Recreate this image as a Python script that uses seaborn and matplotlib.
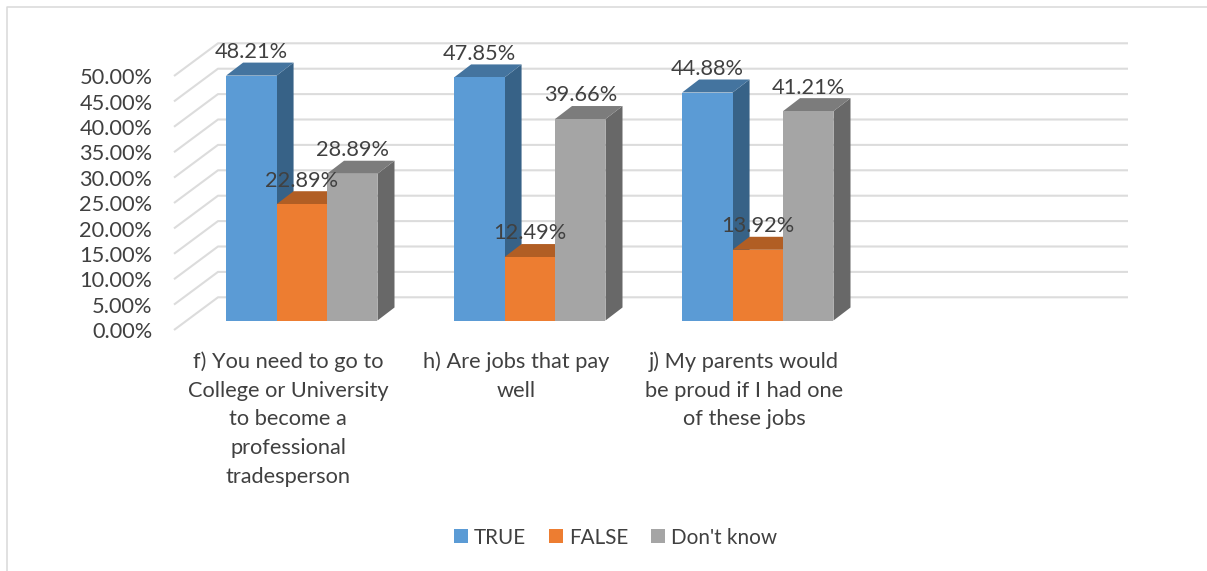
import matplotlib
matplotlib.use("Agg")
import matplotlib.pyplot as plt
import matplotlib.transforms as mtransforms
from matplotlib.lines import Line2D
from matplotlib.patches import Polygon, Patch
import pandas as pd
import seaborn as sns

# Survey responses, in percent
questions = [
    "f) You need to go to\nCollege or University\nto become a\nprofessional\ntradesperson",
    "h) Are jobs that pay\nwell",
    "j) My parents would\nbe proud if I had one\nof these jobs",
]
answers = ["TRUE", "FALSE", "Don't know"]
true_values = [48.21, 47.85, 44.88]
false_values = [22.89, 12.49, 13.92]
unknown_values = [28.89, 39.66, 41.21]
y_ticks = [0, 5, 10, 15, 20, 25, 30, 35, 40, 45, 50]

front_colors = ["#5B9BD5", "#ED7D31", "#A5A5A5"]
top_colors = ["#44749F", "#B15E24", "#7C7C7C"]
side_colors = ["#376287", "#8E4B1D", "#686868"]
grid_color = "#DCDCDC"
text_color = "#404040"

W, H = 1207, 571
sns.set_theme(style="white")
plt.rcParams["font.family"] = ["Lato", "DejaVu Sans"]
font_pt = 15.7
legend_pt = 14.9

df = pd.DataFrame({
    "question": [q for q in questions for _ in answers],
    "answer": answers * len(questions),
    "value": [v for triple in zip(true_values, false_values, unknown_values) for v in triple],
})

fig = plt.figure(figsize=(W / 100, H / 100), dpi=100, facecolor="white")

# Axes box in pixels; the scales below tie percent and category units to it
left, right, top, bottom = 174, 1128, 30, 330
ax = fig.add_axes([left / W, 1 - bottom / H, (right - left) / W, (bottom - top) / H])
px_per_pct = 5.08
px_per_group = 228.0
base_px = 320.5
center_px = 301.8
ax.set_xlim((left - center_px) / px_per_group, (right - center_px) / px_per_group)
ax.set_ylim((base_px - bottom) / px_per_pct, (base_px - top) / px_per_pct)
xlim, ylim = ax.get_xlim(), ax.get_ylim()

sns.barplot(data=df, x="question", y="value", hue="answer", order=questions,
            hue_order=answers, palette=front_colors, saturation=1, width=0.664,
            gap=0, dodge=True, legend=False, ax=ax)
ax.set_xlim(xlim)
ax.set_ylim(ylim)
ax.set_xlabel("")
ax.set_ylabel("")
sns.despine(ax=ax, left=True, bottom=True, top=True, right=True)
ax.grid(False)

# Floor and back wall lines of the 3D box
wall_px = 44 / (right - left)
front_drop = 9.5 / px_per_pct
back_rise = 23.2 / px_per_pct
for v in y_ticks:
    ax.plot([0, wall_px, 1], [v - front_drop, v + back_rise, v + back_rise],
            transform=ax.get_yaxis_transform(), color=grid_color, lw=1.5,
            zorder=1, clip_on=False, solid_capstyle="butt")

# Extrude each bar with a top and a side face
depth_x = 17 / px_per_group
depth_y = 13 / px_per_pct
for i, container in enumerate(ax.containers):
    z = 3 + i
    for bar in container:
        x0, x1 = bar.get_x(), bar.get_x() + bar.get_width()
        h = bar.get_height()
        bar.set_zorder(z + 0.2)
        bar.set_edgecolor("none")
        ax.add_patch(Polygon([(x1, 0), (x1 + depth_x, depth_y), (x1 + depth_x, h + depth_y), (x1, h)],
                             closed=True, facecolor=side_colors[i], edgecolor="none", zorder=z))
        ax.add_patch(Polygon([(x0, h), (x0 + depth_x, h + depth_y), (x1 + depth_x, h + depth_y), (x1, h)],
                             closed=True, facecolor=top_colors[i], edgecolor="none", zorder=z + 0.1))
    labels = ax.bar_label(container, labels=[f"{b.get_height():.2f}%" for b in container],
                          padding=17, fontsize=font_pt, color=text_color, zorder=10)
    for t in labels:
        t.set_verticalalignment("center")

# Axis labels
ax.set_yticks(y_ticks)
ax.set_yticklabels([f"{v:.2f}%" for v in y_ticks])
ax.tick_params(axis="y", length=0, pad=15.6, labelsize=font_pt, labelcolor=text_color)
ax.set_xticks(range(len(questions)))
ax.set_xticklabels(questions, linespacing=1.54)
ax.tick_params(axis="x", length=0, pad=15.5, labelsize=font_pt, labelcolor=text_color)

y_shift = mtransforms.Affine2D().translate(0, -9.7)
for t in ax.get_yticklabels():
    t.set_transform(t.get_transform() + y_shift)
x_shift = mtransforms.Affine2D().translate(-13.6, 0)
for t in ax.get_xticklabels():
    t.set_transform(t.get_transform() + x_shift)

# Legend below the chart
handles = [Patch(facecolor=c, edgecolor="none", label=a) for c, a in zip(front_colors, answers)]
fig.legend(handles=handles, loc="center", bbox_to_anchor=(615.5 / W, 1 - 537.5 / H), ncol=3,
           frameon=False, fontsize=legend_pt, labelcolor=text_color, handlelength=0.676,
           handleheight=0.676, handletextpad=0.29, columnspacing=1.11, borderpad=0, borderaxespad=0)

# Frame along the top and left of the chart area
fig.add_artist(Line2D([7 / W, 7 / W, 1], [0, 1 - 7 / H, 1 - 7 / H], color="#D9D9D9", lw=1.1,
                      transform=fig.transFigure))

fig.savefig("out.png", dpi=100, facecolor="white")
